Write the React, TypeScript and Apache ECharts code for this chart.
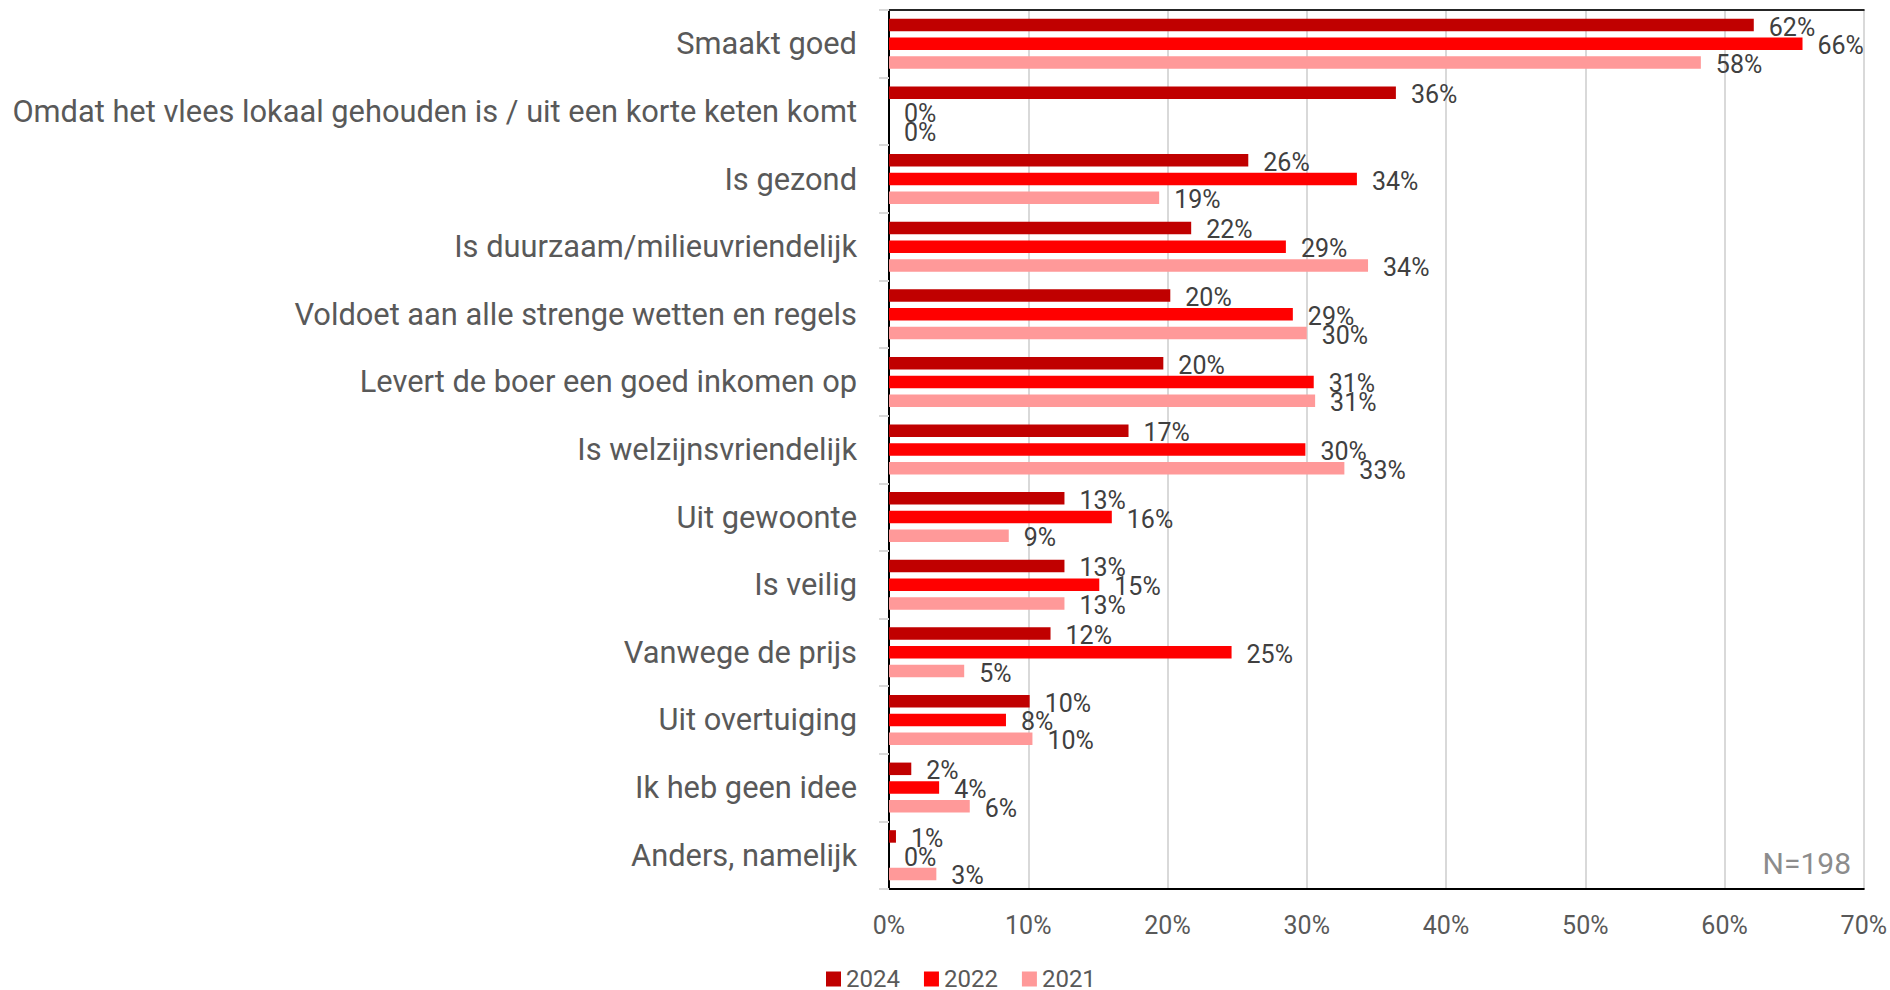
import React, { useEffect, useRef } from "react";
import * as echarts from "echarts";

const categories = [
  "Smaakt goed",
  "Omdat het vlees lokaal gehouden is / uit een korte keten komt",
  "Is gezond",
  "Is duurzaam/milieuvriendelijk",
  "Voldoet aan alle strenge wetten en regels",
  "Levert de boer een goed inkomen op",
  "Is welzijnsvriendelijk",
  "Uit gewoonte",
  "Is veilig",
  "Vanwege de prijs",
  "Uit overtuiging",
  "Ik heb geen idee",
  "Anders, namelijk",
];

const values2024 = [62.1, 36.4, 25.8, 21.7, 20.2, 19.7, 17.2, 12.6, 12.6, 11.6, 10.1, 1.6, 0.5];
const values2022 = [65.6, 0, 33.6, 28.5, 29.0, 30.5, 29.9, 16.0, 15.1, 24.6, 8.4, 3.6, 0];
const values2021 = [58.3, 0, 19.4, 34.4, 30.0, 30.6, 32.7, 8.6, 12.6, 5.4, 10.3, 5.8, 3.4];

const seriesNames = ["2024", "2022", "2021"];
const seriesColors = ["#C00000", "#FF0000", "#FF9999"];
const xTicks = { min: 0, max: 70, interval: 10 };
const noteText = "N=198";

const FONT = "Roboto, 'Noto Sans', sans-serif";

export default function App() {
  const ref = useRef<HTMLDivElement>(null);

  useEffect(() => {
    document.body.style.margin = "0";
    if (!ref.current) return;
    const chart = echarts.init(ref.current, null, { renderer: "svg" });
    const allValues = [values2024, values2022, values2021];

    const series = allValues.map((vals, i) => ({
      name: seriesNames[i],
      type: "bar",
      data: vals,
      barWidth: 12.5,
      barGap: "50%",
      itemStyle: { color: seriesColors[i] },
      label: {
        show: true,
        position: "right",
        distance: 15,
        offset: [0, 2],
        color: "#404040",
        fontSize: 25,
        fontFamily: FONT,
        formatter: (p: any) => Math.round(p.value) + "%",
      },
    }));

    chart.setOption({
      animation: false,
      textStyle: { fontFamily: FONT },
      grid: { left: 889, right: 26, top: 10, bottom: 101, containLabel: false },
      legend: {
        data: seriesNames,
        left: 826,
        top: 967,
        itemWidth: 15,
        itemHeight: 15,
        itemGap: 24,
        icon: "rect",
        padding: 0,
        textStyle: { color: "#595959", fontSize: 24, fontFamily: FONT },
      },
      xAxis: [
        {
          type: "value",
          min: xTicks.min,
          max: xTicks.max,
          interval: xTicks.interval,
          position: "bottom",
          axisLine: { show: true, lineStyle: { color: "#000000", width: 2 } },
          axisTick: { show: false },
          splitLine: { show: true, lineStyle: { color: "#d9d9d9", width: 2 } },
          axisLabel: {
            formatter: "{value}%",
            color: "#595959",
            fontSize: 25,
            margin: 24,
            fontFamily: FONT,
          },
        },
        {
          type: "value",
          min: xTicks.min,
          max: xTicks.max,
          interval: xTicks.interval,
          position: "top",
          axisLine: { show: true, lineStyle: { color: "#262626", width: 2 } },
          axisTick: { show: false },
          axisLabel: { show: false },
          splitLine: { show: false },
        },
      ],
      yAxis: [
        {
          type: "category",
          data: categories,
          inverse: true,
          position: "left",
          axisLine: { show: true, lineStyle: { color: "#bfbfbf", width: 2 } },
          axisTick: { show: true, length: 10, lineStyle: { color: "#d9d9d9", width: 2 } },
          axisLabel: {
            color: "#595959",
            fontSize: 30.8,
            margin: 32,
            fontFamily: FONT,
          },
          splitLine: { show: false },
        },
        {
          type: "category",
          data: categories,
          inverse: true,
          position: "right",
          axisLine: { show: true, lineStyle: { color: "#000000", width: 2 } },
          axisTick: { show: false },
          axisLabel: { show: false },
          splitLine: { show: false },
        },
      ],
      graphic: [
        {
          type: "text",
          right: 39,
          top: 848,
          style: {
            text: noteText,
            fill: "#8c8c8c",
            fontSize: 30,
            fontFamily: FONT,
          },
        },
      ],
      series,
    });

    return () => chart.dispose();
  }, []);

  return <div ref={ref} style={{ width: 1890, height: 990 }} />;
}
